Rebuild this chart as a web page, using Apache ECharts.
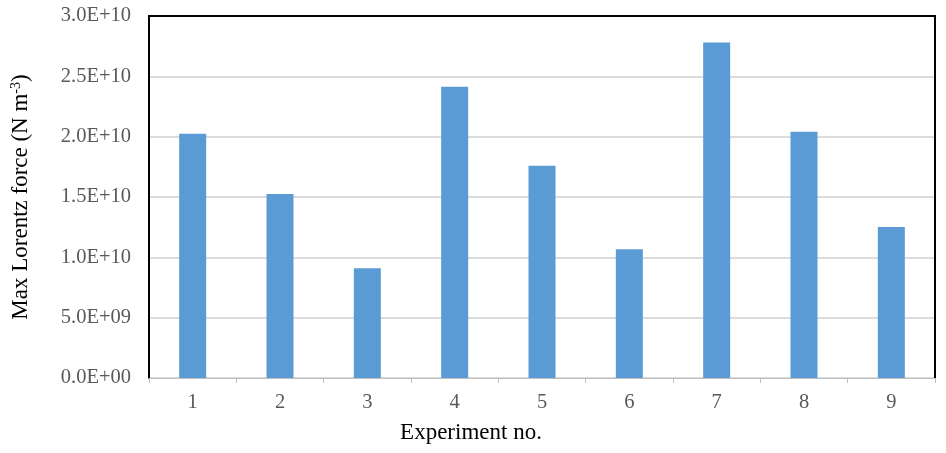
<!DOCTYPE html>
<html>
<head>
<meta charset="utf-8">
<script src="https://cdn.jsdelivr.net/npm/echarts@6/dist/echarts.min.js"></script>
<style>html,body{margin:0;padding:0;background:#fff}#c{width:946px;height:453px}</style>
</head>
<body>
<div id="c"></div>
<script>
var categories = ['1','2','3','4','5','6','7','8','9'];
var maxLorentzForce = [2.024e10, 1.525e10, 9.10e9, 2.414e10, 1.758e10, 1.068e10, 2.780e10, 2.040e10, 1.251e10];
var yMin = 0, yMax = 3.0e10, yStep = 5.0e9;

function fmtE(v){
  var s = Number(v).toExponential(1).toUpperCase();
  var m = s.match(/^(-?[\d.]+)E([+-])(\d+)$/);
  if(!m) return s;
  var e = m[3].length < 2 ? '0' + m[3] : m[3];
  return m[1] + 'E' + m[2] + e;
}

var chart = echarts.init(document.getElementById('c'));
var serif = '"Liberation Serif","Times New Roman",serif';
chart.setOption({
  animation:false,
  grid:{left:149,right:11,top:16,bottom:75,containLabel:false},
  xAxis:[{
    type:'category', data:categories,
    name:'Experiment no.', nameLocation:'middle', nameGap:43,
    nameTextStyle:{fontFamily:serif,fontSize:23,color:'#000',padding:[0,142,0,0]},
    axisLine:{show:true,onZero:false,lineStyle:{color:'#bfbfbf',width:1}},
    axisTick:{show:true,length:5,lineStyle:{color:'#bfbfbf'}},
    axisLabel:{fontFamily:serif,fontSize:20.5,color:'#595959',margin:14},
    splitLine:{show:false}
  },{
    type:'category', data:categories, position:'top',
    axisLine:{show:true,onZero:false,lineStyle:{color:'#000',width:2}},
    axisTick:{show:false}, axisLabel:{show:false}, splitLine:{show:false}
  }],
  yAxis:[{
    type:'value', min:yMin, max:yMax, interval:yStep,
    name:'Max Lorentz force (N m{sup|-3})', nameLocation:'middle', nameGap:116,
    nameTextStyle:{fontFamily:serif,fontSize:23,color:'#000',
      rich:{sup:{fontFamily:serif,fontSize:14,color:'#000',verticalAlign:'top',padding:[0,0,10,0]}}},
    axisLine:{show:true,onZero:false,lineStyle:{color:'#000',width:2}},
    axisTick:{show:false},
    axisLabel:{fontFamily:serif,fontSize:20.5,color:'#595959',margin:18,formatter:fmtE},
    splitLine:{show:true,lineStyle:{color:'#d0d0d0',width:1.5}}
  },{
    type:'value', min:yMin, max:yMax, interval:yStep, position:'right',
    axisLine:{show:true,onZero:false,lineStyle:{color:'#000',width:2}},
    axisTick:{show:false}, axisLabel:{show:false}, splitLine:{show:false}
  }],
  series:[{
    type:'bar', data:maxLorentzForce, barWidth:27,
    itemStyle:{color:'#5b9bd5'}
  }]
});
</script>
</body>
</html>
